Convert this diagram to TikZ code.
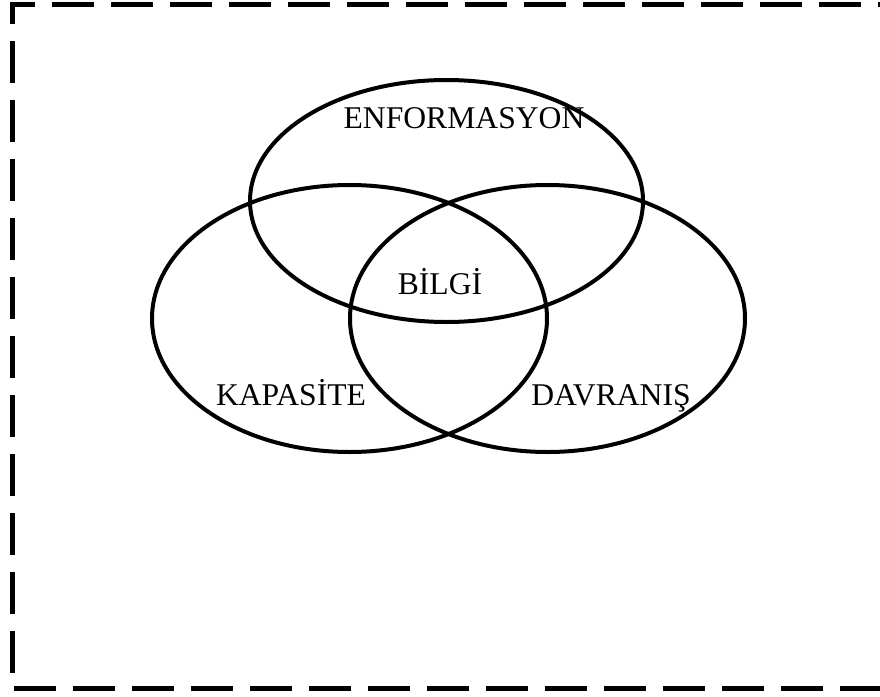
\documentclass[tikz,border=0pt]{standalone}
\usepackage{fontspec}
\setmainfont{Liberation Serif}
\usepackage{tikz}
\usetikzlibrary{positioning}

\begin{document}
\begin{tikzpicture}[
    frame/.style={draw=black, line width=0.1cm,
      dash pattern=on 0.84cm off 0.34cm},
    set/.style={draw=black, line width=0.08cm},
    lbl/.style={font=\fontsize{18}{21.6}\selectfont, anchor=base, inner sep=0pt}
  ]

  \clip (0,0) rectangle (17.6,-13.94);

  % Dashed frame (open to the right)
  \draw[frame] (0.7,-0.09) -- (0.25,-0.09) -- (0.25,-13.76) -- (18.2,-13.76);
  \draw[frame, dash phase=0.84cm] (0.7,-0.09) -- (18.2,-0.09);

  % The three sets
  \draw[set] (8.93,-4.02) ellipse [x radius=3.93cm, y radius=2.42cm];
  \draw[set] (6.99,-6.37) ellipse [x radius=3.95cm, y radius=2.67cm];
  \draw[set] (10.95,-6.37) ellipse [x radius=3.95cm, y radius=2.67cm];

  % Labels
  \node[lbl] (enf) at (9.28,-2.56) {ENFORMASYON};
  \node[lbl] (bilgi) at (8.80,-5.88) {BİLGİ};
  \node[lbl] (kap) at (5.82,-8.10) {KAPASİTE};
  \node[lbl] (dav) at (12.22,-8.10) {DAVRANIŞ};

\end{tikzpicture}
\end{document}
